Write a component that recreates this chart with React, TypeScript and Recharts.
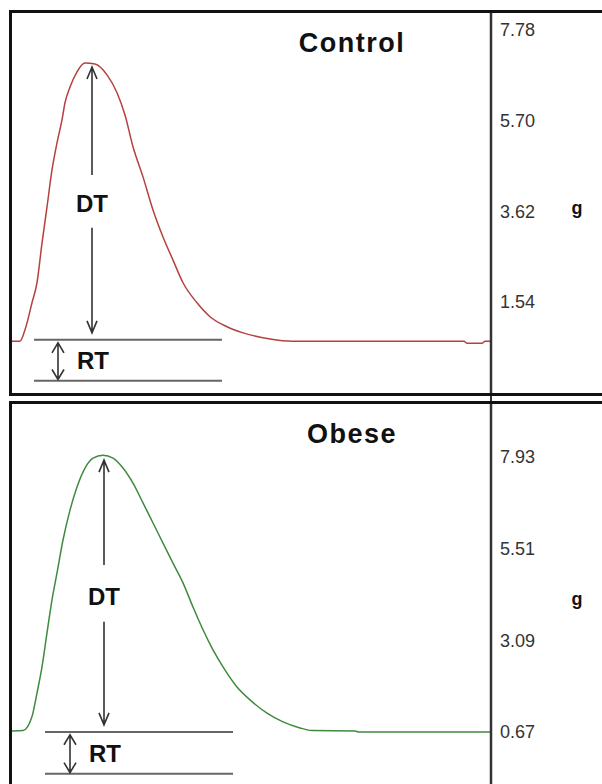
import { LineChart, Line, XAxis, YAxis, ReferenceLine, ReferenceDot } from "recharts";

// time in samples, force in g
const controlTime = [0, 8, 13, 20, 25, 30, 35, 40, 45, 50, 53, 58, 65, 73, 83, 95, 105, 113, 121, 131, 141, 151, 161, 171, 185, 198, 215, 231, 258, 280, 452, 455, 470, 473, 479];
const controlForce = [0.64, 0.64, 0.9, 1.52, 1.98, 2.89, 3.72, 4.57, 5.19, 5.72, 6.11, 6.47, 6.82, 7.02, 7.0, 6.75, 6.34, 5.83, 5.1, 4.41, 3.65, 3.03, 2.5, 1.98, 1.52, 1.2, 0.97, 0.83, 0.69, 0.64, 0.64, 0.59, 0.59, 0.64, 0.64];
const controlTicks = [1.54, 3.62, 5.7, 7.78];

const obeseTime = [0, 11, 20, 25, 30, 35, 40, 45, 51, 58, 65, 73, 81, 91, 101, 111, 121, 131, 141, 151, 161, 171, 181, 191, 201, 211, 225, 238, 255, 271, 288, 300, 343, 347, 479];
const obeseForce = [0.7, 0.71, 1.08, 1.7, 2.39, 3.29, 4.16, 4.87, 5.74, 6.53, 7.14, 7.64, 7.9, 7.98, 7.9, 7.64, 7.24, 6.72, 6.19, 5.66, 5.13, 4.61, 3.97, 3.37, 2.84, 2.39, 1.86, 1.52, 1.17, 0.94, 0.78, 0.71, 0.7, 0.67, 0.67];
const obeseTicks = [0.67, 3.09, 5.51, 7.93];

// annotation anchors, in data units
const controlMarks = {
  dtX: 80, dtTop: 6.93, dtUpperEnd: 4.45, dtLabel: 3.8, dtLowerStart: 3.24, dtBottom: 0.83,
  rtX: 46, rtLineFrom: 22, rtLineTo: 210, rtTop: 0.67, rtBottom: -0.27, rtLabelX: 81, rtLabel: 0.19,
  titleX: 340, titleY: 7.5,
};
const obeseMarks = {
  dtX: 92, dtTop: 7.85, dtUpperEnd: 5.08, dtLabel: 4.24, dtLowerStart: 3.58, dtBottom: 0.86,
  rtX: 58, rtLineFrom: 33, rtLineTo: 221, rtTop: 0.67, rtBottom: -0.43, rtLabelX: 93, rtLabel: 0.11,
  titleX: 340, titleY: 8.56,
};

const FONT = '"Liberation Sans", Arial, sans-serif';

const arrow = (heads: "start" | "end" | "both", hw: number, len: number) => (p: any) => {
  const { x1, y1, x2, y2 } = p;
  const dir = y2 > y1 ? 1 : -1;
  let d = `M${x1},${y1} L${x2},${y2}`;
  if (heads !== "start") d += ` M${x2 - hw},${y2 - dir * len} L${x2},${y2} L${x2 + hw},${y2 - dir * len}`;
  if (heads !== "end") d += ` M${x1 - hw},${y1 + dir * len} L${x1},${y1} L${x1 + hw},${y1 + dir * len}`;
  return <path d={d} stroke="#333" strokeWidth={1.6} fill="none" />;
};

const textShape = (txt: string, size: number, spacing = 0) => (p: any) => (
  <text
    x={p.cx}
    y={p.cy}
    dy="0.36em"
    textAnchor="middle"
    fontFamily={FONT}
    fontWeight="bold"
    fontSize={size}
    letterSpacing={spacing}
    fill="#111"
  >
    {txt}
  </text>
);

type PanelProps = {
  time: number[];
  force: number[];
  ticks: number[];
  domain: [number, number];
  color: string;
  title: string;
  marks: typeof controlMarks;
};

function Panel({ time, force, ticks, domain, color, title, marks }: PanelProps) {
  const data = time.map((t, i) => ({ t, force: force[i] }));
  const m = marks;
  return (
    <LineChart width={590} height={380} data={data} margin={{ top: 0, right: 0, bottom: 0, left: 0 }}>
      <XAxis type="number" dataKey="t" domain={[0, 479]} hide allowDataOverflow />
      <YAxis
        orientation="right"
        width={111}
        domain={domain}
        ticks={ticks}
        interval={0}
        allowDataOverflow
        tickLine={false}
        tickMargin={3}
        axisLine={{ stroke: "#333", strokeWidth: 2.5 }}
        tick={{ fill: "#333", fontSize: 18, fontFamily: FONT }}
        tickFormatter={(v: number) => v.toFixed(2)}
        label={{
          content: (p: any) => (
            <text
              x={p.viewBox.x + 86}
              y={p.viewBox.y + p.viewBox.height / 2 + 11}
              textAnchor="middle"
              fontFamily={FONT}
              fontWeight="bold"
              fontSize={18}
              fill="#111"
            >
              g
            </text>
          ),
        }}
      />
      <ReferenceLine
        segment={[{ x: m.rtLineFrom, y: m.rtTop }, { x: m.rtLineTo, y: m.rtTop }]}
        stroke="#666"
        strokeWidth={2}
      />
      <ReferenceLine
        segment={[{ x: m.rtLineFrom, y: m.rtBottom }, { x: m.rtLineTo, y: m.rtBottom }]}
        stroke="#666"
        strokeWidth={2}
      />
      <ReferenceLine
        segment={[{ x: m.dtX, y: m.dtUpperEnd }, { x: m.dtX, y: m.dtTop }]}
        shape={arrow("end", 5, 12)}
      />
      <ReferenceLine
        segment={[{ x: m.dtX, y: m.dtLowerStart }, { x: m.dtX, y: m.dtBottom }]}
        shape={arrow("end", 5, 12)}
      />
      <ReferenceLine
        segment={[{ x: m.rtX, y: m.rtTop - 0.07 }, { x: m.rtX, y: m.rtBottom + 0.03 }]}
        shape={arrow("both", 6, 10)}
      />
      <ReferenceDot x={m.dtX} y={m.dtLabel} r={0} shape={textShape("DT", 24)} />
      <ReferenceDot x={m.rtLabelX} y={m.rtLabel} r={0} shape={textShape("RT", 24)} />
      <ReferenceDot x={m.titleX} y={m.titleY} r={0} shape={textShape(title, 27, 1.5)} />
      <Line
        type="monotone"
        dataKey="force"
        stroke={color}
        strokeWidth={1.5}
        dot={false}
        activeDot={false}
        isAnimationActive={false}
      />
    </LineChart>
  );
}

export default function App() {
  const frame = "3px solid #111";
  return (
    <div style={{ position: "absolute", left: 0, top: 0, width: 602, height: 784, overflow: "hidden", background: "#fff" }}>
      <div style={{ position: "absolute", left: 9, top: 10, width: 590, height: 380, borderTop: frame, borderLeft: frame, borderBottom: frame }}>
        <Panel
          time={controlTime}
          force={controlForce}
          ticks={controlTicks}
          domain={[-0.55, 8.17]}
          color="#b5413d"
          title="Control"
          marks={controlMarks}
        />
      </div>
      <div style={{ position: "absolute", left: 490, top: 396, width: 2, height: 6, background: "#333" }} />
      <div style={{ position: "absolute", left: 9, top: 401, width: 590, height: 380, borderTop: frame, borderLeft: frame }}>
        <Panel
          time={obeseTime}
          force={obeseForce}
          ticks={obeseTicks}
          domain={[-0.7, 9.33]}
          color="#3f8a3f"
          title="Obese"
          marks={obeseMarks}
        />
      </div>
    </div>
  );
}
